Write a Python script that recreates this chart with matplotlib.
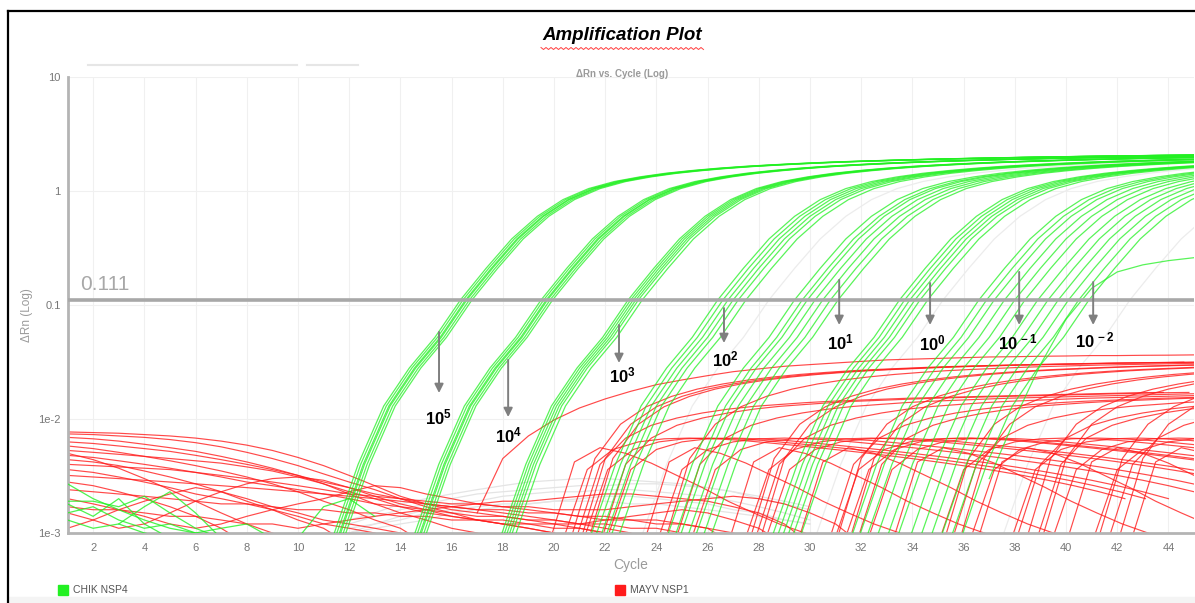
import numpy as np
import matplotlib.pyplot as plt
from matplotlib.lines import Line2D
from matplotlib.patches import Rectangle

plt.rcParams['font.family'] = ['Liberation Sans', 'DejaVu Sans']
plt.rcParams['mathtext.fontset'] = 'custom'
plt.rcParams['mathtext.rm'] = 'Liberation Sans'
plt.rcParams['mathtext.bf'] = 'Liberation Sans:bold'

# ---------------- data ----------------
threshold = 0.111

# CHIK NSP4 amplification profile: delta Rn at whole cycles relative to Ct
chik_rel_cycle = list(range(-6, 30))
chik_profile = [0.0004, 0.0009, 0.0040, 0.0130, 0.0280, 0.0520, 0.111, 0.210, 0.380,
                0.600, 0.840, 1.050, 1.210, 1.330, 1.430, 1.510, 1.580, 1.640, 1.690,
                1.735, 1.775, 1.810, 1.840, 1.868, 1.893, 1.916, 1.937, 1.957, 1.975,
                1.992, 2.008, 2.023, 2.037, 2.050, 2.062, 2.074]

# threshold cycles of the CHIK dilution series
dilution_labels = ['10^{5}', '10^{4}', '10^{3}', '10^{2}', '10^{1}', '10^{0}',
                   '10^{\\,-1}', '10^{\\,-2}']
ct_e5 = [16.35, 16.45, 16.55, 16.6, 16.7, 16.8]
ct_e4 = [19.5, 19.6, 19.7, 19.75, 19.85, 19.95]
ct_e3 = [22.9, 23.0, 23.1, 23.2, 23.3, 23.45]
ct_e2 = [26.4, 26.6, 26.8, 27.0, 27.2, 27.5]
ct_e1 = [29.4, 29.7, 29.9, 30.2, 30.5, 30.8, 31.1]
ct_e0 = [33.5, 33.7, 33.9, 34.1, 34.3, 34.6]
ct_em1 = [36.6, 36.9, 37.2, 37.6, 38.0, 38.4, 38.9, 39.3]
ct_em2 = [39.7, 40.1, 40.5, 40.9]

# one late CHIK well that levels off low
chik_late_cycles = [37, 38, 39, 40, 41, 42, 43, 44, 45]
chik_late_values = [0.003, 0.010, 0.030, 0.075, 0.140, 0.195, 0.225, 0.245, 0.260]

# CHIK baseline noise in the first cycles: (first cycle, values)
chik_noise_start = [1, 1, 1, 1, 1, 3, 10]
chik_noise = [
    [0.0027, 0.0020, 0.0016, 0.0013, 0.0011, 0.0010, 0.0009],
    [0.0019, 0.0019, 0.0017, 0.0021, 0.0015, 0.0011, 0.0009],
    [0.0018, 0.0014, 0.0020, 0.0012, 0.0009],
    [0.0015, 0.0017, 0.0013, 0.0011, 0.0012, 0.0010, 0.0011, 0.0012, 0.0009],
    [0.0013, 0.0011, 0.0012, 0.0010, 0.0009],
    [0.0012, 0.0017, 0.0023, 0.0015, 0.0009],
    [0.0009, 0.0017, 0.0020, 0.0014],
]

# MAYV NSP1 baseline drift, starting at cycle 1
mayv_baseline = [
    [0.0077, 0.0076, 0.0075, 0.0073, 0.0071, 0.0068, 0.0064, 0.0059, 0.0053, 0.0046,
     0.0039, 0.0032, 0.0026, 0.0021, 0.0018, 0.0016, 0.0015, 0.0014, 0.0013, 0.0012,
     0.0011, 0.0010, 0.0008],
    [0.0074, 0.0073, 0.0071, 0.0069, 0.0066, 0.0062, 0.0057, 0.0051, 0.0045, 0.0039,
     0.0033, 0.0028, 0.0024, 0.0020, 0.0017, 0.0015, 0.0013, 0.0012, 0.0011, 0.0010,
     0.0008],
    [0.0069, 0.0067, 0.0064, 0.0060, 0.0056, 0.0052, 0.0047, 0.0042, 0.0037, 0.0032,
     0.0027, 0.0022, 0.0018, 0.0015, 0.0013, 0.0011, 0.0010, 0.0008],
    [0.0063, 0.0061, 0.0058, 0.0055, 0.0052, 0.0048, 0.0044, 0.0040, 0.0036, 0.0032,
     0.0028, 0.0025, 0.0022, 0.0020, 0.0018, 0.0017, 0.0016, 0.0016, 0.0015, 0.0015,
     0.0014, 0.0014, 0.0013, 0.0013, 0.0012, 0.0011, 0.0010, 0.0008],
    [0.0058, 0.0055, 0.0051, 0.0047, 0.0043, 0.0039, 0.0035, 0.0031, 0.0027, 0.0023,
     0.0019, 0.0016, 0.0013, 0.0011, 0.0008],
    [0.0053, 0.0051, 0.0049, 0.0047, 0.0045, 0.0043, 0.0041, 0.0038, 0.0035, 0.0031,
     0.0027, 0.0023, 0.0020, 0.0017, 0.0015, 0.0014, 0.0013, 0.0013, 0.0012, 0.0012,
     0.0012, 0.0013, 0.0014, 0.0015, 0.0016, 0.0015, 0.0013, 0.0011, 0.0008],
    [0.0048, 0.0046, 0.0043, 0.0040, 0.0037, 0.0034, 0.0031, 0.0028, 0.0026, 0.0024,
     0.0022, 0.0020, 0.0018, 0.0017, 0.0016, 0.0015, 0.0014, 0.0014, 0.0013, 0.0013,
     0.0012, 0.0012, 0.0011, 0.0011, 0.0010, 0.0008],
    [0.0044, 0.0042, 0.0039, 0.0035, 0.0031, 0.0027, 0.0023, 0.0019, 0.0016, 0.0013,
     0.0011, 0.0008],
    [0.0040, 0.0039, 0.0038, 0.0037, 0.0036, 0.0034, 0.0032, 0.0030, 0.0028, 0.0026,
     0.0024, 0.0022, 0.0021, 0.0020, 0.0019, 0.0018, 0.0018, 0.0017, 0.0017, 0.0016,
     0.0016, 0.0016, 0.0017, 0.0018, 0.0019, 0.0020, 0.0021, 0.0020, 0.0018, 0.0015,
     0.0012, 0.0008],
    [0.0036, 0.0034, 0.0031, 0.0028, 0.0025, 0.0022, 0.0020, 0.0018, 0.0016, 0.0014,
     0.0012, 0.0011, 0.0010, 0.0008],
    [0.0032, 0.0031, 0.0030, 0.0029, 0.0028, 0.0027, 0.0026, 0.0025, 0.0024, 0.0023,
     0.0022, 0.0021, 0.0020, 0.0019, 0.0018, 0.0017, 0.0016, 0.0015, 0.0014, 0.0013,
     0.0012, 0.0011, 0.0010, 0.0008],
    [0.0028, 0.0026, 0.0023, 0.0020, 0.0017, 0.0014, 0.0011, 0.0008],
    [0.0024, 0.0023, 0.0022, 0.0021, 0.0020, 0.0019, 0.0018, 0.0018, 0.0017, 0.0016,
     0.0016, 0.0015, 0.0015, 0.0014, 0.0014, 0.0013, 0.0013, 0.0012, 0.0012, 0.0011,
     0.0011, 0.0010, 0.0008],
    [0.0011, 0.0013, 0.0016, 0.0019, 0.0022, 0.0025, 0.0023, 0.0020, 0.0017, 0.0015,
     0.0013, 0.0012, 0.0011, 0.0010, 0.0008],
    [0.0015, 0.0013, 0.0011, 0.0012, 0.0015, 0.0019, 0.0023, 0.0027, 0.0030, 0.0031,
     0.0029, 0.0025, 0.0021, 0.0018, 0.0016, 0.0014, 0.0013, 0.0012, 0.0011, 0.0010,
     0.0008],
    [0.0020, 0.0018, 0.0016, 0.0014, 0.0012, 0.0011, 0.0012, 0.0014, 0.0016, 0.0018,
     0.0020, 0.0023, 0.0026, 0.0025, 0.0022, 0.0020, 0.0018, 0.0017, 0.0016, 0.0015,
     0.0014, 0.0013, 0.0013, 0.0012, 0.0012, 0.0011, 0.0008],
    [0.0050, 0.0044, 0.0037, 0.0030, 0.0024, 0.0019, 0.0015, 0.0012, 0.0010, 0.0008],
    [0.0017, 0.0016, 0.0016, 0.0015, 0.0014, 0.0014, 0.0013, 0.0012, 0.0012, 0.0011,
     0.0012, 0.0013, 0.0014, 0.0015, 0.0016, 0.0017, 0.0018, 0.0019, 0.0019, 0.0020,
     0.0021, 0.0022, 0.0022, 0.0021, 0.0020, 0.0019, 0.0017, 0.0015, 0.0012, 0.0008],
]

# earliest MAYV amplification, cycles 17..45
mayv_early = [0.0015, 0.0045, 0.0071, 0.0098, 0.0125, 0.0150, 0.0175, 0.0200, 0.0220,
              0.0240, 0.0260, 0.0275, 0.0290, 0.0300, 0.0310, 0.0320, 0.0330, 0.0335,
              0.0340, 0.0345, 0.0350, 0.0352, 0.0355, 0.0357, 0.0360, 0.0360, 0.0362,
              0.0363, 0.0365]

# MAYV amplification profiles, values at whole cycles after onset
mayv_high = [0.0008, 0.0045, 0.0090, 0.0128, 0.0158, 0.0183, 0.0203, 0.0220, 0.0234,
             0.0246, 0.0256, 0.0265, 0.0272, 0.0278, 0.0284, 0.0289, 0.0293, 0.0297,
             0.0300, 0.0303, 0.0306, 0.0309, 0.0311, 0.0313, 0.0315]
mayv_mid = [0.0008, 0.0040, 0.0068, 0.0088, 0.0102, 0.0113, 0.0122, 0.0129, 0.0134,
            0.0139, 0.0143, 0.0146, 0.0149, 0.0152, 0.0154, 0.0156, 0.0158, 0.0160,
            0.0162, 0.0164, 0.0166, 0.0168, 0.0170, 0.0171]
mayv_hump = [0.0008, 0.0036, 0.0054, 0.0063, 0.0067, 0.0068, 0.0067, 0.0065, 0.0062,
             0.0059, 0.0056, 0.0053, 0.0050, 0.0047, 0.0044, 0.0041, 0.0038, 0.0035,
             0.0032, 0.0029, 0.0026, 0.0023, 0.0020]
mayv_spike = [0.0008, 0.0042, 0.0056, 0.0050, 0.0041, 0.0032, 0.0025, 0.0019, 0.0015,
              0.0012, 0.0010, 0.0008]

onset_high = [20.6, 21.0, 21.3, 24.3, 27.6, 28.0, 31.0, 31.5, 35.2, 35.8, 38.4, 39.0, 41.2, 42.0]
onset_mid = [20.8, 21.8, 24.7, 27.8, 30.7, 31.8, 35.5, 38.0, 38.8, 41.6]
onset_hump = [20.3, 21.1, 22.0, 24.0, 25.3, 27.4, 28.2, 30.9, 31.3, 32.2, 35.0, 36.2,
              37.8, 39.4, 41.0]
onset_spike = [19.8, 23.5, 26.8, 29.5, 33.2, 36.5, 40.0, 42.5]

# faint undetermined wells, cycles 12..30
gray_noise = [
    [0.0012, 0.0014, 0.0016, 0.0018, 0.0020, 0.0022, 0.0023, 0.0024, 0.0025, 0.0026,
     0.0026, 0.0027, 0.0027, 0.0026, 0.0025, 0.0023, 0.0021, 0.0019, 0.0017],
    [0.0011, 0.0012, 0.0014, 0.0016, 0.0018, 0.0019, 0.0021, 0.0022, 0.0023, 0.0023,
     0.0024, 0.0024, 0.0023, 0.0022, 0.0021, 0.0019, 0.0017, 0.0015, 0.0013],
    [0.0010, 0.0011, 0.0012, 0.0013, 0.0015, 0.0016, 0.0017, 0.0018, 0.0019, 0.0020,
     0.0021, 0.0021, 0.0020, 0.0019, 0.0018, 0.0016, 0.0015, 0.0013, 0.0012],
    [0.0013, 0.0015, 0.0018, 0.0020, 0.0022, 0.0024, 0.0026, 0.0028, 0.0029, 0.0030,
     0.0030, 0.0029, 0.0028, 0.0027, 0.0025, 0.0023, 0.0020, 0.0018, 0.0016],
    [0.0010, 0.0012, 0.0013, 0.0015, 0.0016, 0.0017, 0.0018, 0.0018, 0.0019, 0.0019,
     0.0019, 0.0018, 0.0018, 0.0017, 0.0016, 0.0015, 0.0014, 0.0013, 0.0012],
]
gray_ct = [28.4, 35.2, 42.5]

# ---------------- figure ----------------
fig = plt.figure(figsize=(11.95, 6.03), dpi=100)
ax = fig.add_axes([0.0565, 0.1161, 0.9427, 0.7562])

green = '#22f022'
red = '#ff1c1c'
rel = np.array(chik_rel_cycle)

for vals in gray_noise:
    ax.plot(np.arange(12, 12 + len(vals)), vals, color='#e4e4e4', lw=0.9, zorder=1)
for ct in gray_ct:
    ax.plot(ct + rel, chik_profile, color='#ececec', lw=0.9, zorder=1)

for vals in mayv_baseline:
    ax.plot(np.arange(1, len(vals) + 1), vals, color=red, lw=0.85, alpha=0.8, zorder=2)
ax.plot(np.arange(17, 17 + len(mayv_early)), mayv_early, color=red, lw=0.85, alpha=0.8,
        zorder=2)
for profile, onsets in [(mayv_high, onset_high), (mayv_mid, onset_mid),
                        (mayv_hump, onset_hump), (mayv_spike, onset_spike)]:
    for c0 in onsets:
        ax.plot(c0 + np.arange(len(profile)), profile, color=red, lw=0.85, alpha=0.8,
                zorder=2)

for c0, vals in zip(chik_noise_start, chik_noise):
    ax.plot(np.arange(c0, c0 + len(vals)), vals, color=green, lw=0.9, alpha=0.8, zorder=3)
for group in [ct_e5, ct_e4, ct_e3, ct_e2, ct_e1, ct_e0, ct_em1, ct_em2]:
    for ct in group:
        ax.plot(ct + rel, chik_profile, color=green, lw=0.9, alpha=0.75, zorder=3)
ax.plot(chik_late_cycles, chik_late_values, color=green, lw=0.9, alpha=0.75, zorder=3)

# threshold
ax.axhline(threshold, color='#a8a8a8', lw=2.6, zorder=5)
ax.text(1.5, threshold * 1.13, f'{threshold:.3f}', color='#a8a8a8', fontsize=15,
        va='bottom', ha='left', zorder=6)

# dilution arrows and labels
arrow_x = [15.51, 18.21, 22.54, 26.64, 31.14, 34.69, 38.17, 41.06]
arrow_top = [0.058, 0.033, 0.0668, 0.094, 0.166, 0.156, 0.195, 0.159]
arrow_tip = [0.0169, 0.0104, 0.031, 0.0464, 0.0668, 0.0668, 0.0668, 0.0668]
label_x = [15.47, 18.21, 22.66, 26.68, 31.18, 34.77, 38.13, 41.14]
label_y = [0.0104, 0.00724, 0.0243, 0.0336, 0.0473, 0.0464, 0.0473, 0.0493]
for lab, ax_x, y0, y1, lx, ly in zip(dilution_labels, arrow_x, arrow_top, arrow_tip,
                                     label_x, label_y):
    ax.annotate('', xy=(ax_x, y1), xytext=(ax_x, y0),
                arrowprops=dict(arrowstyle='-|>', color='#7f7f7f', lw=1.4,
                                mutation_scale=13, shrinkA=0, shrinkB=0), zorder=7)
    ax.text(lx, ly, rf'$\mathbf{{{lab}}}$', fontsize=12, ha='center', va='center',
            color='black', zorder=8)

ax.set_yscale('log')
ax.set_xlim(1, 45)
ax.set_ylim(1e-3, 10)
ax.set_xticks(range(2, 45, 2))
ax.set_yticks([1e-3, 1e-2, 0.1, 1, 10])
ax.set_yticklabels(['1e-3', '1e-2', '0.1', '1', '10'])
ax.minorticks_off()
ax.tick_params(axis='both', length=0, colors='#777777', labelsize=8)
ax.tick_params(axis='x', pad=7)
ax.tick_params(axis='y', pad=5)
ax.grid(True, color='#f0f0f0', lw=0.8)
ax.set_axisbelow(True)
for side in ['top', 'right']:
    ax.spines[side].set_visible(False)
for side in ['left', 'bottom']:
    ax.spines[side].set_color('#b4b4b4')
    ax.spines[side].set_linewidth(2)
ax.set_xlabel('Cycle', color='#9a9a9a', fontsize=10, labelpad=4)
fig.text(27 / 1195, 1 - 315 / 603, 'ΔRn (Log)', rotation=90, color='#9a9a9a',
         fontsize=8.5, ha='center', va='center')

# titles
fig.text(622 / 1195, 1 - 35 / 603, 'Amplification Plot', fontsize=13.5, fontweight='bold',
         fontstyle='italic', ha='center', va='center')
squiggle_x = np.arange(541, 704, 2.5)
squiggle_y = np.where(np.arange(len(squiggle_x)) % 2 == 0, 47.5, 49.5)
fig.add_artist(Line2D(squiggle_x / 1195, 1 - squiggle_y / 603, color='#ff4040', lw=0.7))
fig.text(622 / 1195, 1 - 74 / 603, 'ΔRn vs. Cycle (Log)', fontsize=7, fontweight='bold',
         color='#9a9a9a', ha='center', va='center')
fig.add_artist(Line2D([88 / 1195, 297 / 1195], [1 - 65 / 603] * 2, color='#e6e6e6', lw=1.5))
fig.add_artist(Line2D([307 / 1195, 358 / 1195], [1 - 65 / 603] * 2, color='#e6e6e6', lw=1.5))

# legend
for sx, col, name in [(58, green, 'CHIK NSP4'), (615, red, 'MAYV NSP1')]:
    fig.add_artist(Rectangle((sx / 1195, 1 - 595 / 603), 10 / 1195, 10 / 603,
                             color=col, transform=fig.transFigure))
    fig.text((sx + 15) / 1195, 1 - 590 / 603, name, fontsize=7.5, color='#555555',
             va='center', ha='left')

# page frame
fig.add_artist(Line2D([7.5 / 1195, 7.5 / 1195], [0, 1 - 11 / 603], color='black', lw=1.6))
fig.add_artist(Line2D([7.5 / 1195, 1], [1 - 11 / 603] * 2, color='black', lw=1.6))
fig.add_artist(Rectangle((9 / 1195, 0), 1, 6 / 603, color='#f4f4f4',
                         transform=fig.transFigure, zorder=0))

fig.savefig('out.png', dpi=100)
